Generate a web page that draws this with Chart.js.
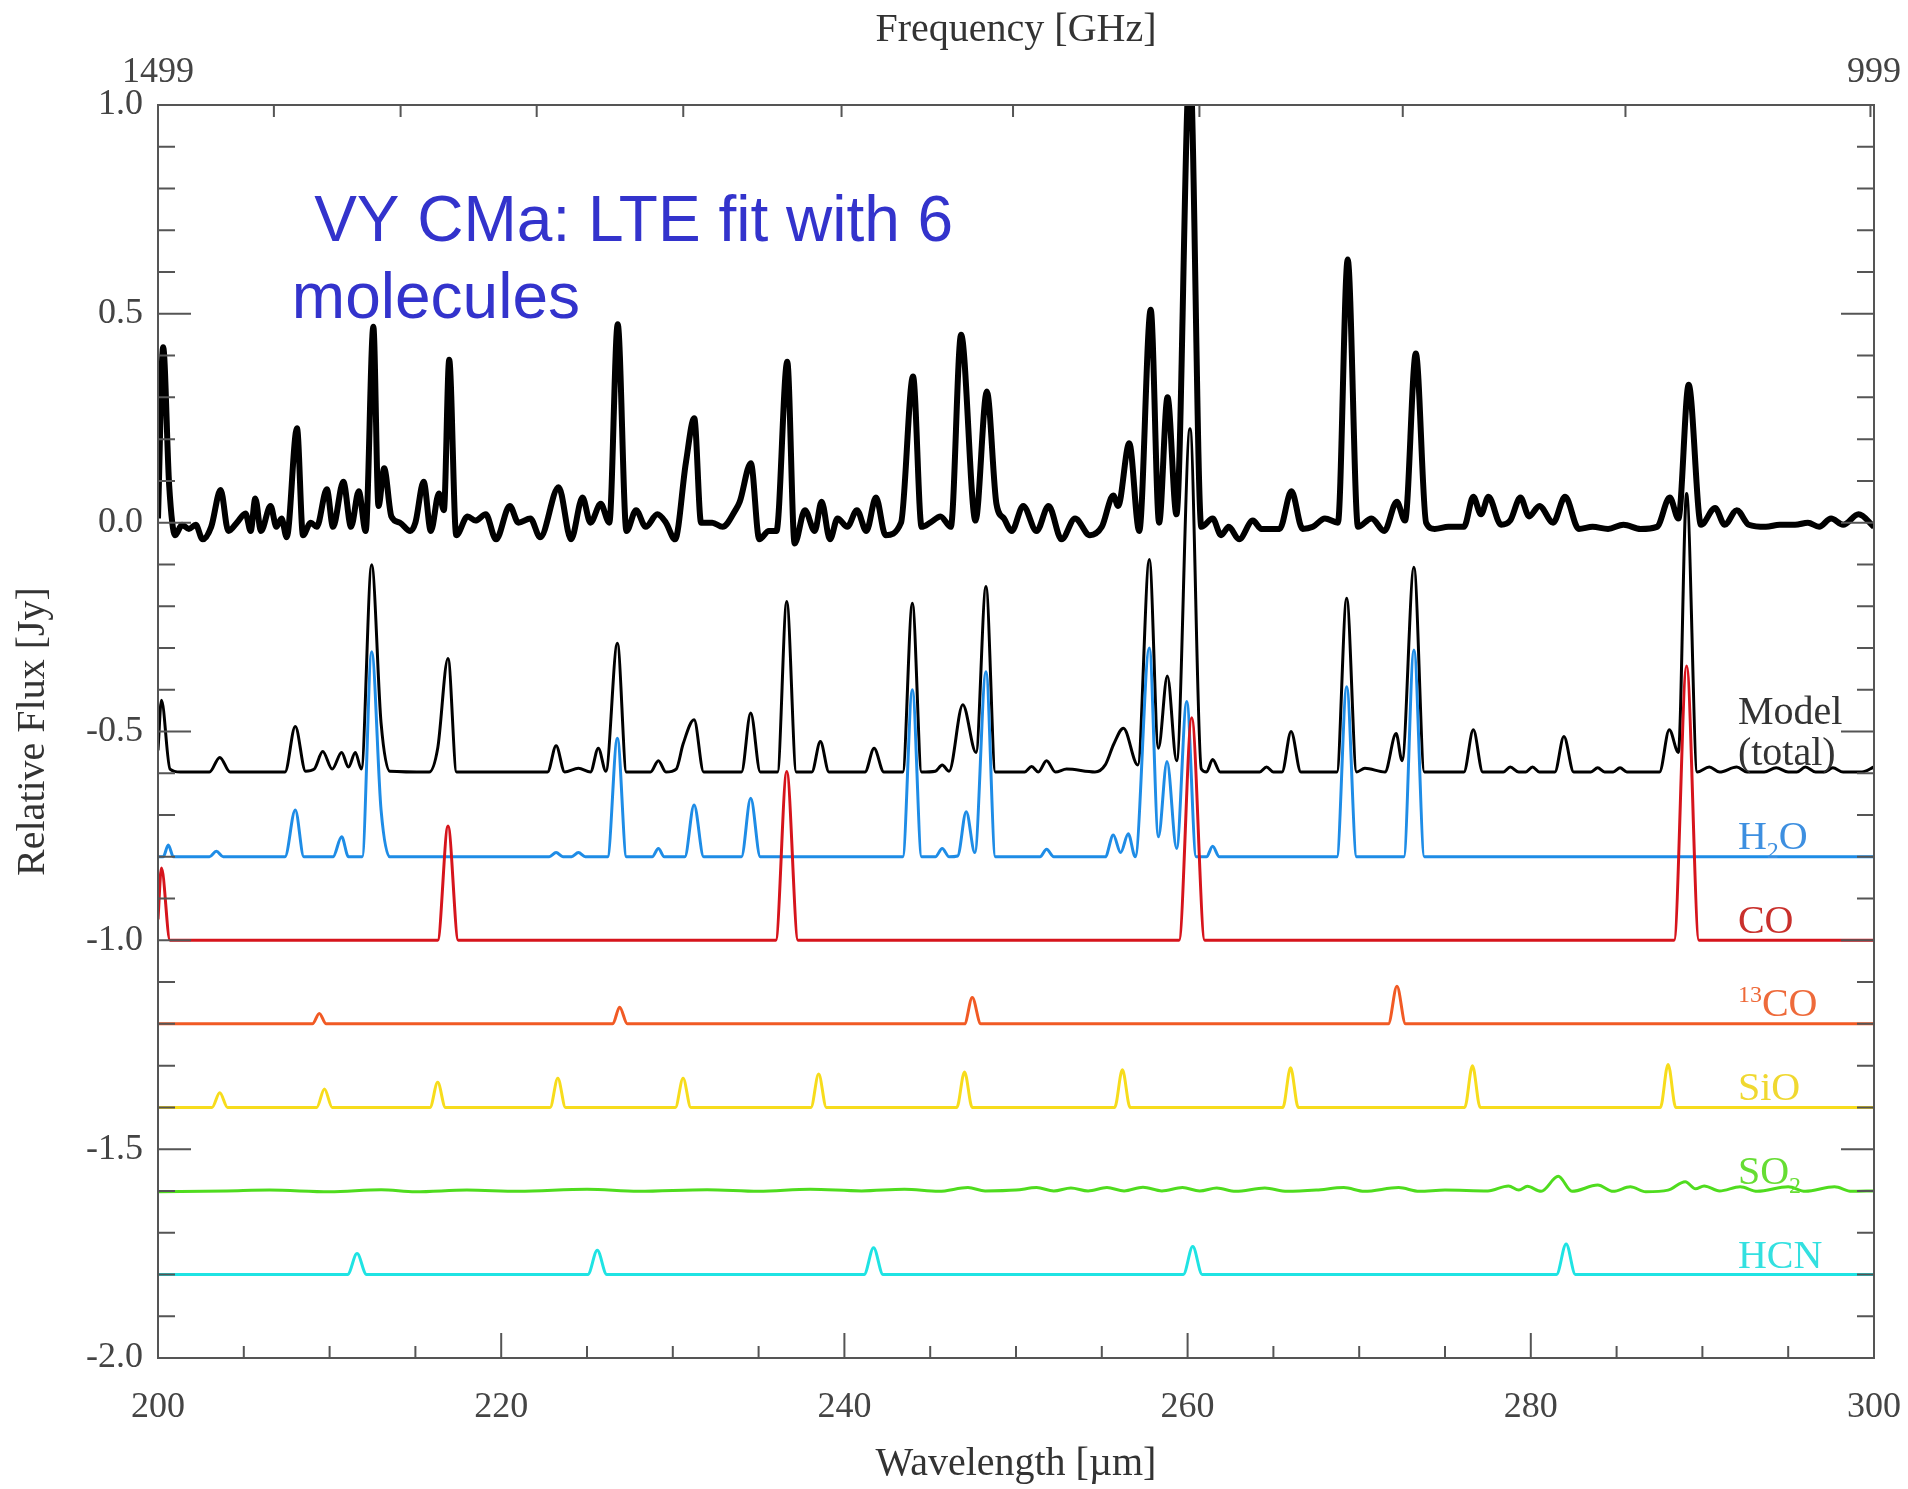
<!DOCTYPE html>
<html>
<head>
<meta charset="utf-8">
<title>VY CMa: LTE fit with 6 molecules</title>
<script src="https://cdn.jsdelivr.net/npm/chart.js@4.4.1/dist/chart.umd.min.js"></script>
<style>
  html, body { margin: 0; padding: 0; background: #fff; }
  canvas { display: block; }
</style>
</head>
<body>
<canvas id="spectrum" width="1908" height="1489"></canvas>
<script>
// wavelength [um], relative flux [Jy]
var observed = [
  [200.0, 0.01], [200.3, 0.42], [200.65, 0.09], [201.0, -0.03], [201.4, -0.005], [201.8, -0.015],
  [202.2, -0.005], [202.6, -0.04], [203.1, -0.01], [203.65, 0.078], [204.1, -0.02], [204.6, 0.0],
  [205.1, 0.022], [205.4, -0.02], [205.67, 0.058], [206.0, -0.02], [206.56, 0.04], [206.9, -0.01],
  [207.2, 0.01], [207.5, -0.035], [208.1, 0.226], [208.45, -0.03], [208.9, 0.0], [209.25, -0.01],
  [209.84, 0.08], [210.2, -0.01], [210.8, 0.098], [211.25, -0.01], [211.7, 0.075], [212.1, -0.02],
  [212.55, 0.469], [212.85, 0.04], [213.18, 0.13], [213.6, 0.015], [214.1, 0.0], [214.7, -0.02],
  [215.0, 0.0], [215.48, 0.098], [215.9, -0.02], [216.37, 0.07], [216.66, 0.03], [216.97, 0.39],
  [217.38, -0.03], [218.04, 0.015], [218.5, 0.005], [219.1, 0.02], [219.7, -0.04], [220.5, 0.04],
  [221.0, 0.0], [221.7, 0.01], [222.27, -0.035], [223.35, 0.085], [224.07, -0.04], [224.74, 0.06],
  [225.2, 0.0], [225.8, 0.045], [226.3, 0.0], [226.79, 0.475], [227.3, -0.02], [227.86, 0.03],
  [228.42, -0.01], [229.1, 0.02], [229.6, 0.0], [230.13, -0.04], [230.76, 0.143], [231.25, 0.25],
  [231.65, 0.0], [232.3, 0.0], [232.9, -0.01], [233.65, 0.03], [233.9, 0.05], [234.55, 0.142],
  [235.04, -0.04], [235.6, -0.02], [236.04, -0.02], [236.67, 0.385], [237.1, -0.05], [237.7, 0.03],
  [238.27, -0.02], [238.67, 0.05], [239.16, -0.04], [239.6, 0.01], [240.17, -0.01], [240.73, 0.03],
  [241.28, -0.02], [241.84, 0.06], [242.4, -0.03], [243.3, 0.0], [244.0, 0.35], [244.5, -0.01],
  [245.0, 0.0], [245.6, 0.015], [246.2, -0.01], [246.8, 0.45], [247.64, 0.005], [248.3, 0.314],
  [248.86, 0.045], [249.3, 0.01], [249.75, -0.02], [250.42, 0.04], [251.2, -0.02], [251.9, 0.04],
  [252.66, -0.04], [253.44, 0.01], [254.3, -0.03], [255.0, -0.01], [255.67, 0.065], [255.95, 0.04],
  [256.6, 0.19], [257.18, -0.02], [257.85, 0.51], [258.34, 0.0], [258.83, 0.3], [259.35, 0.02],
  [260.13, 1.1], [260.8, -0.01], [261.46, 0.01], [261.95, -0.03], [262.4, -0.01], [263.0, -0.04],
  [263.8, 0.005], [264.3, -0.015], [265.36, -0.015], [266.05, 0.075], [266.7, -0.015], [267.3, -0.01],
  [268.0, 0.01], [268.76, 0.0], [269.33, 0.63], [269.93, -0.01], [270.72, 0.01], [271.46, -0.02],
  [272.19, 0.05], [272.67, 0.005], [273.3, 0.405], [273.9, 0.0], [274.4, -0.015], [275.2, -0.01],
  [276.1, -0.01], [276.65, 0.062], [277.1, 0.02], [277.53, 0.062], [278.27, -0.005], [278.8, 0.005],
  [279.4, 0.06], [279.9, 0.015], [280.5, 0.04], [281.3, 0.0], [282.0, 0.062], [282.8, -0.015],
  [283.6, -0.01], [284.5, -0.015], [285.4, -0.005], [286.4, -0.015], [287.35, -0.01], [288.1, 0.06],
  [288.6, 0.01], [289.2, 0.33], [289.92, -0.005], [290.74, 0.035], [291.3, -0.005], [292.0, 0.03],
  [292.7, -0.005], [293.7, -0.01], [294.5, -0.005], [295.4, -0.005], [296.15, 0.0], [296.8, -0.01],
  [297.5, 0.01], [298.2, -0.005], [299.1, 0.02], [300.0, -0.01]
];

var modelTotal = [
  [200.0, -0.545], [200.2, -0.425], [200.7, -0.59], [201.3, -0.597], [203.0, -0.597], [203.6, -0.562],
  [204.2, -0.597], [207.4, -0.597], [208.0, -0.488], [208.6, -0.595], [209.1, -0.59], [209.6, -0.548],
  [210.15, -0.59], [210.7, -0.55], [211.1, -0.585], [211.5, -0.55], [211.85, -0.59], [212.45, -0.101],
  [213.0, -0.48], [213.5, -0.595], [215.8, -0.597], [216.3, -0.54], [216.9, -0.325], [217.4, -0.597],
  [222.7, -0.597], [223.2, -0.534], [223.7, -0.597], [224.5, -0.588], [225.2, -0.597], [225.66, -0.54],
  [226.1, -0.595], [226.77, -0.289], [227.3, -0.597], [228.7, -0.597], [229.16, -0.57], [229.6, -0.597],
  [230.2, -0.59], [230.6, -0.53], [231.24, -0.472], [231.8, -0.597], [234.0, -0.597], [234.54, -0.456],
  [235.1, -0.597], [236.1, -0.597], [236.64, -0.189], [237.2, -0.597], [238.1, -0.597], [238.6, -0.524],
  [239.1, -0.597], [241.2, -0.597], [241.73, -0.54], [242.3, -0.597], [243.4, -0.597], [243.96, -0.193],
  [244.5, -0.597], [245.3, -0.595], [245.7, -0.58], [246.1, -0.595], [246.9, -0.436], [247.67, -0.55],
  [248.25, -0.153], [248.8, -0.597], [250.5, -0.597], [250.91, -0.584], [251.3, -0.597], [251.78, -0.57],
  [252.3, -0.597], [252.95, -0.59], [254.6, -0.597], [255.2, -0.58], [255.7, -0.53], [256.26, -0.492],
  [257.1, -0.58], [257.77, -0.088], [258.3, -0.54], [258.82, -0.367], [259.36, -0.57], [260.14, 0.225],
  [260.8, -0.59], [261.1, -0.597], [261.46, -0.567], [261.9, -0.597], [264.2, -0.597], [264.6, -0.585],
  [265.0, -0.597], [265.5, -0.597], [266.03, -0.5], [266.6, -0.597], [268.7, -0.597], [269.27, -0.181],
  [269.85, -0.597], [270.33, -0.588], [271.5, -0.597], [272.15, -0.505], [272.5, -0.57], [273.19, -0.107],
  [273.8, -0.597], [276.1, -0.597], [276.65, -0.496], [277.2, -0.597], [278.4, -0.597], [278.8, -0.585],
  [279.3, -0.597], [279.7, -0.597], [280.1, -0.585], [280.5, -0.597], [281.4, -0.597], [281.93, -0.512],
  [282.5, -0.597], [283.5, -0.597], [283.9, -0.587], [284.3, -0.597], [284.8, -0.597], [285.2, -0.587],
  [285.6, -0.597], [287.5, -0.597], [288.07, -0.496], [288.6, -0.55], [289.08, 0.07], [289.7, -0.597],
  [290.4, -0.585], [291.0, -0.597], [292.0, -0.585], [292.6, -0.597], [293.6, -0.597], [294.3, -0.587],
  [295.0, -0.597], [295.5, -0.597], [296.0, -0.585], [296.6, -0.597], [297.1, -0.597], [297.6, -0.587],
  [298.2, -0.597], [299.3, -0.597], [300.0, -0.585]
];

var h2o = [
  [200.0, -0.8], [200.3, -0.8], [200.6, -0.772], [200.9, -0.8], [203.0, -0.8], [203.4, -0.787],
  [203.8, -0.8], [207.4, -0.8], [208.0, -0.688], [208.5, -0.8], [210.2, -0.8], [210.7, -0.752],
  [211.1, -0.8], [211.9, -0.8], [212.45, -0.309], [213.0, -0.688], [213.5, -0.8], [222.8, -0.8],
  [223.2, -0.79], [223.6, -0.8], [224.1, -0.8], [224.5, -0.79], [224.9, -0.8], [226.2, -0.8],
  [226.77, -0.516], [227.3, -0.8], [228.8, -0.8], [229.16, -0.78], [229.5, -0.8], [230.7, -0.8],
  [231.24, -0.676], [231.8, -0.8], [234.0, -0.8], [234.54, -0.66], [235.1, -0.8], [243.4, -0.8],
  [243.96, -0.4], [244.5, -0.8], [245.3, -0.8], [245.7, -0.78], [246.1, -0.8], [246.6, -0.798],
  [247.1, -0.692], [247.6, -0.79], [248.25, -0.357], [248.8, -0.8], [251.4, -0.8], [251.78, -0.782],
  [252.2, -0.8], [255.2, -0.8], [255.67, -0.748], [256.1, -0.79], [256.54, -0.745], [256.95, -0.8],
  [257.77, -0.3], [258.3, -0.752], [258.8, -0.572], [259.36, -0.78], [259.95, -0.428], [260.5, -0.8],
  [261.1, -0.8], [261.46, -0.775], [261.85, -0.8], [268.7, -0.8], [269.27, -0.393], [269.85, -0.8],
  [272.6, -0.8], [273.19, -0.305], [273.8, -0.8], [300.0, -0.8]
];

var co = [
  [200.0, -0.95], [200.2, -0.827], [200.7, -1.0], [216.3, -1.0], [216.9, -0.726], [217.5, -1.0],
  [236.0, -1.0], [236.64, -0.596], [237.3, -1.0], [259.5, -1.0], [260.24, -0.467], [261.0, -1.0],
  [288.35, -1.0], [289.08, -0.343], [289.8, -1.0], [300.0, -1.0]
];

var co13 = [
  [200.0, -1.2], [209.0, -1.2], [209.4, -1.175], [209.8, -1.2], [226.5, -1.2], [226.9, -1.16],
  [227.35, -1.2], [247.0, -1.2], [247.45, -1.137], [247.95, -1.2], [271.7, -1.2], [272.2, -1.11],
  [272.7, -1.2], [300.0, -1.2]
];

var sio = [
  [200.0, -1.4], [203.15, -1.4], [203.6, -1.365], [204.05, -1.4], [209.25, -1.4], [209.7, -1.356],
  [210.15, -1.4], [215.85, -1.4], [216.3, -1.34], [216.75, -1.4], [222.85, -1.4], [223.3, -1.33],
  [223.75, -1.4], [230.15, -1.4], [230.6, -1.33], [231.05, -1.4], [238.05, -1.4], [238.5, -1.32],
  [238.95, -1.4], [246.55, -1.4], [247.0, -1.315], [247.45, -1.4], [255.75, -1.4], [256.2, -1.31],
  [256.65, -1.4], [265.55, -1.4], [266.0, -1.305], [266.45, -1.4], [276.15, -1.4], [276.6, -1.3],
  [277.05, -1.4], [287.55, -1.4], [288.0, -1.297], [288.45, -1.4], [300.0, -1.4]
];

var so2 = [
  [200.0, -1.602], [204.0, -1.6], [206.5, -1.598], [210.0, -1.602], [213.0, -1.597], [215.0, -1.602],
  [218.0, -1.598], [221.0, -1.601], [225.0, -1.596], [228.0, -1.601], [232.0, -1.597], [235.0, -1.601],
  [238.0, -1.596], [241.0, -1.6], [243.5, -1.596], [245.5, -1.601], [247.2, -1.592], [248.2, -1.6],
  [250.0, -1.598], [251.2, -1.592], [252.2, -1.6], [253.2, -1.593], [254.2, -1.6], [255.3, -1.592],
  [256.3, -1.6], [257.4, -1.591], [258.5, -1.6], [259.7, -1.592], [260.7, -1.6], [261.7, -1.593],
  [262.8, -1.601], [264.5, -1.593], [265.8, -1.601], [267.5, -1.598], [269.1, -1.592], [270.3, -1.601],
  [272.3, -1.592], [273.5, -1.601], [275.0, -1.598], [277.5, -1.6], [278.7, -1.588], [279.3, -1.598],
  [279.8, -1.589], [280.6, -1.601], [281.6, -1.565], [282.4, -1.601], [283.9, -1.586], [284.8, -1.601],
  [285.8, -1.59], [286.7, -1.602], [288.0, -1.598], [289.0, -1.578], [289.6, -1.595], [290.1, -1.588],
  [291.0, -1.6], [292.2, -1.59], [293.2, -1.601], [295.0, -1.59], [296.0, -1.601], [297.7, -1.59],
  [298.7, -1.601], [300.0, -1.6]
];

var hcn = [
  [200.0, -1.8], [211.05, -1.8], [211.6, -1.75], [212.15, -1.8], [225.05, -1.8], [225.6, -1.742],
  [226.15, -1.8], [241.15, -1.8], [241.7, -1.736], [242.25, -1.8], [259.75, -1.8], [260.3, -1.733],
  [260.85, -1.8], [281.5, -1.8], [282.06, -1.727], [282.6, -1.8], [300.0, -1.8]
];

// top axis: frequency ticks in GHz
var freqTicks = [1450, 1400, 1350, 1300, 1250, 1200, 1150, 1100, 1050, 1000];
var C_UM_GHZ = 299792.458;

var SERIF = '"Liberation Serif", "Times New Roman", serif';
Chart.defaults.font.family = SERIF;

function isHalf(v) {
  return Math.abs(v * 2 - Math.round(v * 2)) < 1e-6;
}

// keep end labels from pushing the plot area inwards
function fixHeight(h) {
  return function(s) {
    s.height = h;
    s.paddingLeft = 0;
    s.paddingRight = 0;
  };
}

function drawParts(ctx, parts, x, y, color) {
  ctx.fillStyle = color;
  parts.forEach(function(p) {
    var small = p.sub || p.sup;
    ctx.font = (small ? 24 : 40) + 'px ' + SERIF;
    var dy = p.sub ? 9 : (p.sup ? -14 : 0);
    ctx.fillText(p.t, x, y + dy);
    x += ctx.measureText(p.t).width;
  });
}

var decorations = {
  id: 'decorations',
  afterDraw: function(chart) {
    var ctx = chart.ctx, a = chart.chartArea;
    var xs = chart.scales.x, ys = chart.scales.y;
    ctx.save();
    // frame and inward ticks
    ctx.strokeStyle = '#555';
    ctx.lineWidth = 2;
    ctx.strokeRect(a.left, a.top, a.right - a.left, a.bottom - a.top);
    ctx.beginPath();
    ys.ticks.forEach(function(t) {
      var py = ys.getPixelForValue(t.value);
      var len = isHalf(t.value) ? 33 : 17;
      ctx.moveTo(a.left, py); ctx.lineTo(a.left + len, py);
      ctx.moveTo(a.right, py); ctx.lineTo(a.right - len, py);
    });
    xs.ticks.forEach(function(t) {
      var px = xs.getPixelForValue(t.value);
      var len = t.value % 20 === 0 ? 25 : 12;
      ctx.moveTo(px, a.bottom); ctx.lineTo(px, a.bottom - len);
    });
    freqTicks.forEach(function(f) {
      var px = xs.getPixelForValue(C_UM_GHZ / f);
      ctx.moveTo(px, a.top); ctx.lineTo(px, a.top + 12);
    });
    ctx.stroke();

    // title inside the plot
    ctx.fillStyle = '#3333cc';
    ctx.font = '64px "Liberation Sans", Arial, sans-serif';
    ctx.textBaseline = 'alphabetic';
    ctx.textAlign = 'left';
    ctx.fillText('VY CMa: LTE fit with 6', xs.getPixelForValue(209.1), ys.getPixelForValue(0.674));
    ctx.fillText('molecules', xs.getPixelForValue(207.8), ys.getPixelForValue(0.49));

    // series labels on the right
    var lx = xs.getPixelForValue(292.07);
    var base = function(v) { return ys.getPixelForValue(v) + 13; };
    drawParts(ctx, [{t: 'Model'}], lx, base(-0.451), '#333');
    drawParts(ctx, [{t: '(total)'}], lx, base(-0.549), '#333');
    drawParts(ctx, [{t: 'H'}, {t: '2', sub: true}, {t: 'O'}], lx, base(-0.75), '#3d8fe0');
    drawParts(ctx, [{t: 'CO'}], lx, base(-0.951), '#c9302c');
    drawParts(ctx, [{t: '13', sup: true}, {t: 'CO'}], lx, base(-1.15), '#ee6a3a');
    drawParts(ctx, [{t: 'SiO'}], lx, base(-1.351), '#f0d830');
    drawParts(ctx, [{t: 'SO'}, {t: '2', sub: true}], lx, base(-1.552), '#66dd33');
    drawParts(ctx, [{t: 'HCN'}], lx, base(-1.753), '#33e0e0');
    ctx.restore();
  }
};

function series(data, color, width, order) {
  return {
    data: data,
    borderColor: color,
    borderWidth: width,
    pointRadius: 0,
    fill: false,
    cubicInterpolationMode: 'monotone',
    order: order,
    clip: 0
  };
}

new Chart(document.getElementById('spectrum'), {
  type: 'line',
  data: {
    datasets: [
      series(observed, '#000000', 6, 8),
      series(modelTotal, '#000000', 3, 7),
      series(h2o, '#1e8ce6', 3, 6),
      series(co, '#d6141c', 3, 5),
      series(co13, '#f15a24', 3, 4),
      series(sio, '#f7dc1c', 3, 3),
      series(so2, '#4fdc1e', 3, 2),
      series(hcn, '#1fe3e3', 3, 1)
    ]
  },
  options: {
    responsive: false,
    animation: false,
    layout: { padding: { left: 0, right: 34, top: 0, bottom: 0 } },
    plugins: { legend: { display: false }, tooltip: { enabled: false } },
    scales: {
      x: {
        type: 'linear',
        position: 'bottom',
        min: 200,
        max: 300,
        afterFit: fixHeight(131),
        grid: { display: false, drawTicks: false },
        border: { display: false },
        ticks: {
          stepSize: 5,
          autoSkip: false,
          maxRotation: 0,
          padding: 28,
          color: '#444',
          font: { size: 36 },
          callback: function(v) { return v % 20 === 0 ? String(v) : ''; }
        },
        title: {
          display: true,
          text: 'Wavelength [\u00b5m]',
          color: '#333',
          font: { size: 40 },
          padding: { top: 0, bottom: 1 }
        }
      },
      freq: {
        type: 'linear',
        position: 'top',
        min: 200,
        max: 300,
        afterFit: fixHeight(105),
        afterBuildTicks: function(s) { s.ticks = [{ value: 200 }, { value: 300 }]; },
        grid: { display: false, drawTicks: false },
        border: { display: false },
        ticks: {
          autoSkip: false,
          maxRotation: 0,
          padding: 11,
          color: '#444',
          font: { size: 36 },
          callback: function(v) { return String(Math.round(C_UM_GHZ / v)); }
        },
        title: {
          display: true,
          text: 'Frequency [GHz]',
          color: '#333',
          font: { size: 40 },
          padding: { top: 6, bottom: 0 }
        }
      },
      y: {
        type: 'linear',
        position: 'left',
        min: -2,
        max: 1,
        afterFit: function(s) { s.width = 158; },
        grid: { display: false, drawTicks: false },
        border: { display: false },
        ticks: {
          stepSize: 0.1,
          autoSkip: false,
          padding: 15,
          color: '#444',
          font: { size: 36 },
          callback: function(v) { return isHalf(v) ? v.toFixed(1) : ''; }
        },
        title: {
          display: true,
          text: 'Relative Flux [Jy]',
          color: '#333',
          font: { size: 40 },
          padding: { top: 9, bottom: 0 }
        }
      }
    }
  },
  plugins: [decorations]
});
</script>
</body>
</html>
